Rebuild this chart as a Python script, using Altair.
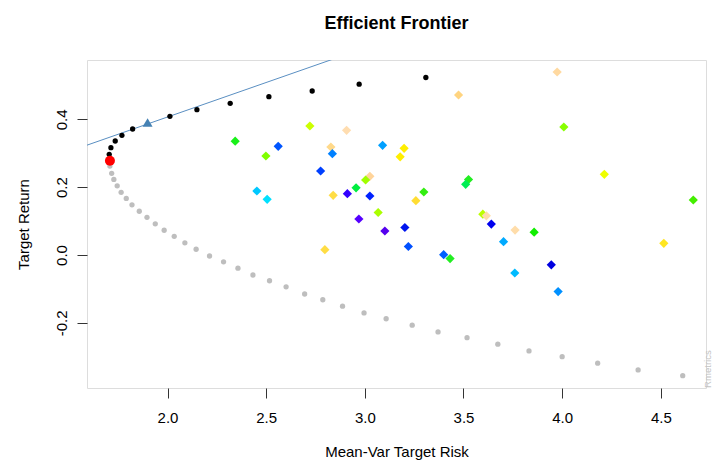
import altair as alt
import pandas as pd

# ---- data ----
x_domain = [1.592, 4.729]
y_domain = [-0.3923, 0.5752]
x_ticks = [2.0, 2.5, 3.0, 3.5, 4.0, 4.5]
y_ticks = [-0.2, 0.0, 0.2, 0.4]

# efficient (upper) frontier points
eff_risk = [1.7046, 1.7132, 1.735, 1.769, 1.8232, 2.0122, 2.149, 2.3177, 2.5138, 2.7332, 2.9713, 3.3093]
eff_ret = [0.2971, 0.3165, 0.3363, 0.3531, 0.3717, 0.4091, 0.4286, 0.4475, 0.467, 0.4838, 0.5038, 0.5236]

# inefficient (lower) frontier points
low_risk = [1.708, 1.717, 1.728, 1.745, 1.765, 1.791, 1.820, 1.857, 1.896, 1.938, 1.983, 2.034,
            2.088, 2.145, 2.213, 2.284, 2.357, 2.433, 2.517, 2.601, 2.695, 2.787, 2.887, 2.996,
            3.108, 3.240, 3.371, 3.518, 3.674, 3.832, 4.000, 4.180, 4.385, 4.611]
low_ret = [0.2625, 0.241, 0.223, 0.204, 0.185, 0.167, 0.148, 0.129, 0.111, 0.092, 0.073, 0.055,
           0.036, 0.017, -0.003, -0.020, -0.039, -0.059, -0.076, -0.094, -0.115, -0.132, -0.151, -0.171,
           -0.188, -0.207, -0.227, -0.244, -0.263, -0.283, -0.300, -0.319, -0.339, -0.356]

minvar_risk = [1.7082]
minvar_ret = [0.2782]

tang_risk = [1.899]
tang_ret = [0.3865]

# single asset points
asset_risk = [2.343, 2.7215, 2.9075, 2.828, 2.561, 2.8355, 3.090, 3.199, 3.179, 2.4986,
              2.776, 3.0255, 3.004, 2.9556, 2.453, 2.505, 2.8396, 2.9115, 3.0255, 3.299,
              3.2586, 3.0676, 2.9698, 3.1015, 3.2029, 3.2206, 2.7975, 3.3995, 3.432, 3.475,
              3.9746, 4.0085, 3.5256, 3.511, 4.2137, 4.6646, 3.598, 3.6158, 3.641, 3.7613,
              3.858, 3.703, 4.5152, 3.945, 3.760, 3.9796]
asset_ret = [0.3357, 0.3805, 0.3678, 0.3186, 0.3206, 0.2988, 0.3236, 0.3147, 0.2897, 0.292,
             0.2478, 0.2322, 0.2212, 0.1982, 0.1888, 0.1643, 0.1761, 0.1808, 0.174, 0.1858,
             0.1602, 0.1254, 0.1062, 0.0708, 0.0811, 0.0251, 0.0156, 0.0009, -0.0106, 0.472,
             0.5398, 0.3776, 0.2227, 0.2086, 0.238, 0.1622, 0.1204, 0.1156, 0.0914, 0.0737,
             0.0673, 0.0392, 0.0345, -0.0289, -0.0531, -0.1077]
asset_color = ["#19F019", "#CCFF00", "#FFDDB0", "#FFD98A", "#0055FF", "#0080FF", "#00A0FF", "#FFEE00", "#FFEE00", "#80FF00",
               "#0040FF", "#FFD49A", "#A0FF00", "#00EE40", "#00C8FF", "#00E0FF", "#FFDD44", "#3300FF", "#0022FF", "#33EE11",
               "#FFDD33", "#AAFF00", "#5500FF", "#5500EE", "#0015EE", "#0050FF", "#FFDD44", "#0060FF", "#22EE22", "#FFD480",
               "#FFD9A0", "#88FF00", "#22EE22", "#00EE55", "#EEFF00", "#44EE00", "#BBFF00", "#FFDDAA", "#0000EE", "#FFDDAA",
               "#11EE00", "#00AAFF", "#FFE620", "#0000E0", "#00BBFF", "#0090FF"]

FONT = "Liberation Sans"

# tangency line from origin (risk-free 0) through tangency point
slope = tang_ret[0] / tang_risk[0]
line_df = pd.DataFrame({"risk": [0.0, x_domain[1]], "ret": [0.0, slope * x_domain[1]]})
eff_df = pd.DataFrame({"risk": eff_risk, "ret": eff_ret})
low_df = pd.DataFrame({"risk": low_risk, "ret": low_ret})
mv_df = pd.DataFrame({"risk": minvar_risk, "ret": minvar_ret})
tg_df = pd.DataFrame({"risk": tang_risk, "ret": tang_ret})
as_df = pd.DataFrame({"risk": asset_risk, "ret": asset_ret, "col": asset_color})

xs = alt.Scale(domain=x_domain, nice=False, zero=False)
ys = alt.Scale(domain=y_domain, nice=False, zero=False)

x_axis = alt.Axis(values=x_ticks, format=".1f", title="Mean-Var Target Risk", domain=False, grid=False,
                  tickSize=10, tickColor="#333333", labelFontSize=15, labelFont=FONT, labelColor="black",
                  labelPadding=24, labelBaseline="alphabetic", titleFontSize=15, titleFont=FONT,
                  titleFontWeight="normal", titleColor="black", titleY=68, titleBaseline="alphabetic")
y_axis = alt.Axis(values=y_ticks, title="Target Return", domain=False, grid=False,
                  labelExpr="datum.value < 0 ? '-' + format(-datum.value, '.1f') : format(datum.value, '.1f')",
                  tickSize=10, tickColor="#333333", labelFontSize=15, labelFont=FONT, labelColor="black",
                  labelAngle=270, labelAlign="center", labelBaseline="alphabetic", labelPadding=11,
                  titleFontSize=15, titleFont=FONT, titleFontWeight="normal", titleColor="black",
                  titleAngle=270, titleX=-59, titleBaseline="alphabetic", titleAlign="center")

line = alt.Chart(line_df).mark_line(color="#5A8FC2", strokeWidth=1, clip=True)
low = alt.Chart(low_df).mark_point(shape="circle", filled=True, size=28, color="#BEBEBE", opacity=1)
eff = alt.Chart(eff_df).mark_point(shape="circle", filled=True, size=28, color="black", opacity=1)
mv = alt.Chart(mv_df).mark_point(shape="circle", filled=True, size=100, color="#FF0000", opacity=1)
tg = alt.Chart(tg_df).mark_point(shape="M0,-1.155L1,0.577L-1,0.577Z", filled=True, size=100,
                                 color="#4682B4", opacity=1)
assets = alt.Chart(as_df).mark_point(shape="diamond", filled=True, size=85, opacity=1).encode(
    color=alt.Color("col:N", scale=None))
wm = alt.Chart(pd.DataFrame({"t": ["Rmetrics"]})).mark_text(
    angle=270, align="left", baseline="alphabetic", fontSize=9.6, color="#C4C4C4", font=FONT).encode(
    x=alt.value(624), y=alt.value(328), text="t:N")

chart = alt.layer(line, low, eff, mv, tg, assets, wm).encode(
    x=alt.X("risk:Q", scale=xs, axis=x_axis),
    y=alt.Y("ret:Q", scale=ys, axis=y_axis),
).properties(
    width=619, height=328,
    title=alt.TitleParams("Efficient Frontier", fontSize=18, font=FONT, fontWeight="bold", color="black",
                          anchor="middle", frame="group", baseline="alphabetic", offset=13),
    padding={"left": 79, "top": 52, "right": 6, "bottom": 80},
    autosize=alt.AutoSizeParams(type="none"),
).configure_view(stroke="#555555", strokeWidth=1).configure(background="white")

chart.save("out.html", embed_options={"renderer": "svg", "actions": False})
